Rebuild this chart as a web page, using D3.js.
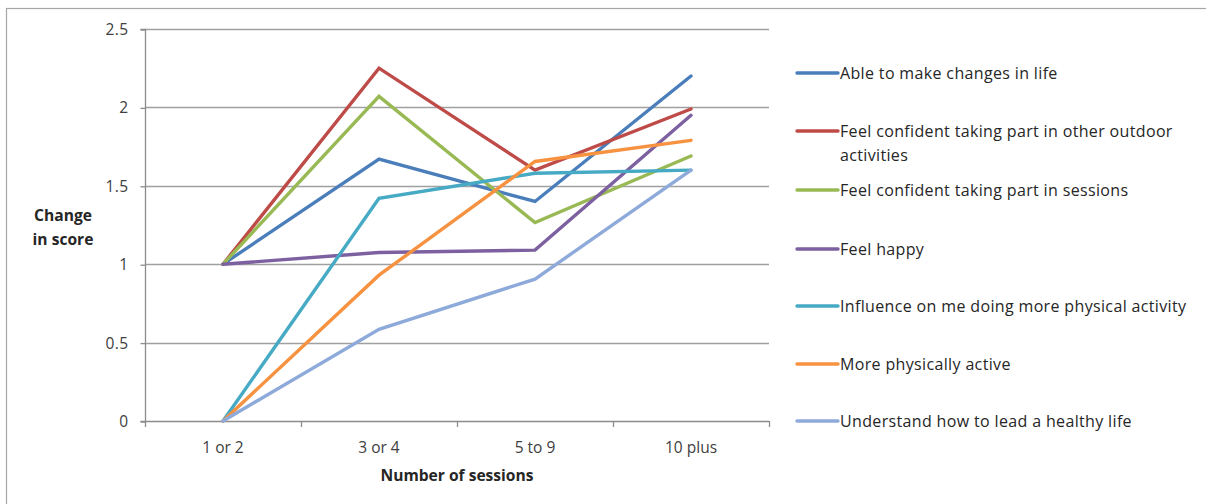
<!DOCTYPE html>
<html>
<head>
<meta charset="utf-8">
<script src="https://cdn.jsdelivr.net/npm/d3@7"></script>
<style>
  html, body { margin: 0; padding: 0; background: #fff; }
  svg { display: block; font-family: "Open Sans", sans-serif; }
</style>
</head>
<body>
<svg id="chart" width="1206" height="504"></svg>
<script>
const categories = ["1 or 2", "3 or 4", "5 to 9", "10 plus"];
const seriesNames = [
  "Able to make changes in life",
  "Feel confident taking part in other outdoor activities",
  "Feel confident taking part in sessions",
  "Feel happy",
  "Influence on me doing more physical activity",
  "More physically active",
  "Understand how to lead a healthy life"
];
const ableToMakeChanges = [1, 1.67, 1.40, 2.20];
const confidentOutdoor = [1, 2.25, 1.60, 1.99];
const confidentSessions = [1, 2.07, 1.265, 1.69];
const feelHappy = [1, 1.075, 1.09, 1.95];
const influenceActivity = [0, 1.42, 1.58, 1.60];
const morePhysicallyActive = [0, 0.93, 1.655, 1.79];
const understandHealthy = [0, 0.585, 0.905, 1.60];
const yTicks = [0, 0.5, 1, 1.5, 2, 2.5];
const yTickLabels = ["0", "0.5", "1", "1.5", "2", "2.5"];
const colors = ["#4A7EBB", "#BE4B48", "#98B954", "#7D60A0", "#46AAC5", "#F69240", "#8EAADA"];
const legendLines = [
  ["Able to make changes in life"],
  ["Feel confident taking part in other outdoor", "activities"],
  ["Feel confident taking part in sessions"],
  ["Feel happy"],
  ["Influence on me doing more physical activity"],
  ["More physically active"],
  ["Understand how to lead a healthy life"]
];

const values = [ableToMakeChanges, confidentOutdoor, confidentSessions, feelHappy,
                influenceActivity, morePhysicallyActive, understandHealthy];
const series = seriesNames.map((name, i) => ({ name, values: values[i], color: colors[i], lines: legendLines[i] }));

const svg = d3.select("#chart");

// outer frame
svg.append("rect").attr("x", 6.5).attr("y", 8.5).attr("width", 1220).attr("height", 520)
  .attr("fill", "none").attr("stroke", "#a6a6a6").attr("stroke-width", 1.2);

const plot = { left: 145, right: 769, top: 29, bottom: 421 };

const x = d3.scaleBand().domain(categories).range([plot.left, plot.right]).padding(0);
const y = d3.scaleLinear().domain([0, 2.5]).range([plot.bottom, plot.top]);

// gridlines
svg.append("g").selectAll("line").data(yTicks.filter(d => d > 0)).join("line")
  .attr("x1", plot.left).attr("x2", plot.right)
  .attr("y1", d => Math.round(y(d)) + 0.5).attr("y2", d => Math.round(y(d)) + 0.5)
  .attr("stroke", "#a0a0a0").attr("stroke-width", 1.3);

// y axis
const yAxis = d3.axisLeft(y).tickValues(yTicks).tickFormat((d, i) => yTickLabels[i]).tickSize(5).tickPadding(12);
const gy = svg.append("g").attr("transform", `translate(${plot.left + 0.5},0.5)`).call(yAxis);
gy.select(".domain").attr("stroke", "#8c8c8c").attr("stroke-width", 1.3).attr("d", `M-5,${plot.top}H0V${plot.bottom}H-5`);
gy.selectAll(".tick line").attr("stroke", "#8c8c8c").attr("stroke-width", 1.3);
gy.selectAll(".tick text").attr("font-size", 15.5).attr("fill", "#404040")
  .attr("font-family", "'Open Sans', sans-serif").attr("letter-spacing", 0.4);

// x axis
const xAxis = d3.axisBottom(x).tickSize(0).tickPadding(20);
const gx = svg.append("g").attr("transform", `translate(0,${plot.bottom + 0.5})`).call(xAxis);
gx.select(".domain").attr("stroke", "#8c8c8c").attr("stroke-width", 1.3).attr("d", `M${plot.left},0H${plot.right}`);
gx.selectAll(".tick text").attr("font-size", 15.5).attr("fill", "#404040")
  .attr("font-family", "'Open Sans', sans-serif");
// category boundary ticks
const boundaries = categories.map(c => x(c)).concat([x(categories[categories.length - 1]) + x.bandwidth()]);
svg.append("g").selectAll("line").data(boundaries).join("line")
  .attr("x1", d => Math.round(d) + 0.5).attr("x2", d => Math.round(d) + 0.5)
  .attr("y1", plot.bottom).attr("y2", plot.bottom + 6)
  .attr("stroke", "#8c8c8c").attr("stroke-width", 1.3);

// axis titles
svg.append("text").attr("x", (plot.left + plot.right) / 2).attr("y", 481)
  .attr("text-anchor", "middle").attr("font-size", 15.6).attr("font-weight", "bold").attr("fill", "#262626")
  .text("Number of sessions");
const yt = svg.append("text").attr("text-anchor", "middle").attr("font-size", 15.6).attr("font-weight", "bold").attr("fill", "#262626");
yt.append("tspan").attr("x", 63).attr("y", 221).text("Change");
yt.append("tspan").attr("x", 63).attr("y", 245).text("in score");

// lines
const line = d3.line().x((d, i) => x(categories[i]) + x.bandwidth() / 2).y(d => y(d));
svg.append("g").selectAll("path").data(series).join("path")
  .attr("d", d => line(d.values))
  .attr("fill", "none").attr("stroke", d => d.color).attr("stroke-width", 3.4)
  .attr("stroke-linejoin", "miter").attr("stroke-linecap", "round");

// legend
const legendY = [73, 131, 190, 249, 306, 364, 421];
const lg = svg.append("g").selectAll("g").data(series).join("g")
  .attr("transform", (d, i) => `translate(797,${legendY[i]})`);
lg.append("line").attr("x1", 0).attr("x2", 41).attr("y1", 0).attr("y2", 0)
  .attr("stroke", d => d.color).attr("stroke-width", 3.4).attr("stroke-linecap", "round");
lg.each(function(d) {
  const t = d3.select(this).append("text").attr("font-size", 16).attr("letter-spacing", 0.35).attr("fill", "#262626");
  d.lines.forEach((l, j) => {
    t.append("tspan").attr("x", 43).attr("y", 5.5 + j * 24).text(l);
  });
});
</script>
</body>
</html>
